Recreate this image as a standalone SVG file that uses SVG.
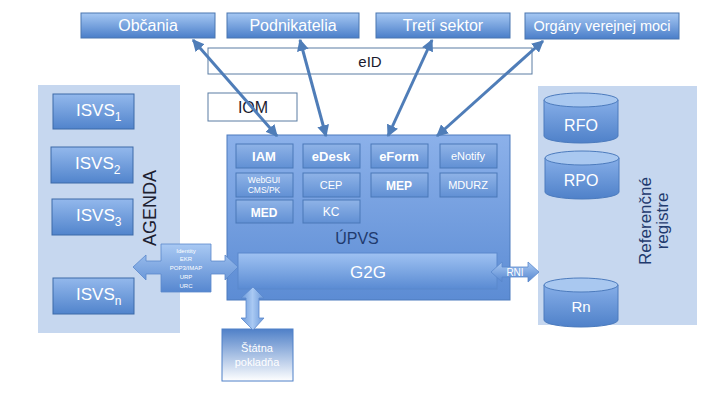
<svg xmlns="http://www.w3.org/2000/svg" width="720" height="405" viewBox="0 0 720 405">
<defs>
<linearGradient id="gTop" x1="0" y1="0" x2="0" y2="1"><stop offset="0" stop-color="#a6c8f3"/><stop offset="1" stop-color="#4a7ec9"/></linearGradient>
<linearGradient id="gBox" x1="0" y1="0" x2="0" y2="1"><stop offset="0" stop-color="#93b8ec"/><stop offset="1" stop-color="#5184cc"/></linearGradient>
<linearGradient id="gIn" x1="0" y1="0" x2="0" y2="1"><stop offset="0" stop-color="#8fb3e7"/><stop offset="1" stop-color="#6190d4"/></linearGradient>
<linearGradient id="gUp" x1="0" y1="0" x2="0" y2="1"><stop offset="0" stop-color="#8cb1ea"/><stop offset="1" stop-color="#5c8cd4"/></linearGradient>
<linearGradient id="gG2G" x1="0" y1="0" x2="0" y2="1"><stop offset="0" stop-color="#9fc2f2"/><stop offset="1" stop-color="#5a8bd3"/></linearGradient>
<linearGradient id="gArr" x1="0" y1="0" x2="0" y2="1"><stop offset="0" stop-color="#a9c9f3"/><stop offset="1" stop-color="#5687d0"/></linearGradient>
<linearGradient id="gArrV" x1="0" y1="0" x2="1" y2="0"><stop offset="0" stop-color="#6a98da"/><stop offset="0.5" stop-color="#a9c9f3"/><stop offset="1" stop-color="#6a98da"/></linearGradient>
<linearGradient id="gSP" x1="0" y1="0" x2="0" y2="1"><stop offset="0" stop-color="#4f80c8"/><stop offset="1" stop-color="#ffffff"/></linearGradient>
<linearGradient id="gCyl" x1="0" y1="0" x2="0" y2="1"><stop offset="0" stop-color="#86aee8"/><stop offset="1" stop-color="#4f81c9"/></linearGradient>
<marker id="ah" viewBox="0 0 10 10" refX="9" refY="5" markerWidth="4" markerHeight="4" orient="auto-start-reverse" markerUnits="strokeWidth"><path d="M0,0 L10,5 L0,10 Z" fill="#4f7db8"/></marker>
</defs>
<style>
text{font-family:"Liberation Sans",Arial,sans-serif}
.top{fill:url(#gTop);stroke:#4a76b0;stroke-width:1}
.tt{fill:#fff;font-size:16px;text-anchor:middle}
.isvs{fill:url(#gBox);stroke:#3d6aa8;stroke-width:1}
.it{fill:#fff;font-size:17px}
.in{fill:url(#gIn);stroke:#4a78b8;stroke-width:1}
.bt{fill:#fff;font-size:13px;font-weight:bold;text-anchor:middle}
.nt{fill:#fff;font-size:11px;text-anchor:middle}
.panel{fill:#c6d7ef}
.wbox{fill:#fff;stroke:#5a7ca3;stroke-width:1}
.dk{fill:#1a1a2e;text-anchor:middle}
.conn{stroke:#4f7db8;stroke-width:3;fill:none;marker-start:url(#ah);marker-end:url(#ah)}
.cylb{fill:url(#gCyl);stroke:#4c7bbd;stroke-width:1}
.cylt{fill:#a9c8f0;stroke:#4c7bbd;stroke-width:1}
.tiny{fill:#fff;font-size:6px;text-anchor:middle}
</style>

<rect class="panel" x="38" y="85" width="142" height="248"/>
<rect class="panel" x="538" y="86" width="159" height="239"/>

<g id="obcania"><rect class="top" x="81" y="13" width="134" height="25"/><text class="tt" x="148" y="31">Občania</text></g>
<g id="podnikatelia"><rect class="top" x="227" y="13" width="132" height="25"/><text class="tt" x="293" y="31">Podnikatelia</text></g>
<g id="treti"><rect class="top" x="376" y="13" width="134" height="25"/><text class="tt" x="443" y="31">Tretí sektor</text></g>
<g id="organy"><rect class="top" x="525" y="13" width="154" height="26"/><text class="tt" x="602" y="31" style="font-size:14.5px">Orgány verejnej moci</text></g>

<g id="eid"><rect class="wbox" x="208" y="48" width="324" height="26"/><text class="dk" x="370" y="67" style="font-size:15px">eID</text></g>
<g id="iom"><rect class="wbox" x="208" y="93" width="89" height="28"/><text class="dk" x="253" y="113" style="font-size:16px">IOM</text></g>

<g id="isvs1"><rect class="isvs" x="53" y="94" width="81" height="35"/><text class="it" x="76" y="116">ISVS<tspan font-size="12" dy="5">1</tspan></text></g>
<g id="isvs2"><rect class="isvs" x="51" y="147" width="82" height="36"/><text class="it" x="75" y="169">ISVS<tspan font-size="12" dy="5">2</tspan></text></g>
<g id="isvs3"><rect class="isvs" x="52" y="199" width="81" height="36"/><text class="it" x="76" y="221">ISVS<tspan font-size="12" dy="5">3</tspan></text></g>
<g id="isvsn"><rect class="isvs" x="53" y="278" width="81" height="36"/><text class="it" x="76" y="300">ISVS<tspan font-size="12" dy="5">n</tspan></text></g>
<g id="agenda"><text class="dk" transform="translate(156,208) rotate(-90)" style="font-size:18px;fill:#1c2030">AGENDA</text></g>

<g id="upvs">
<rect x="227" y="135" width="283" height="165" fill="url(#gUp)" stroke="#4c7bbd" stroke-width="1"/>
<text x="357" y="244" style="font-size:16px;fill:#1f3a6e;text-anchor:middle">ÚPVS</text>
</g>
<g id="iam"><rect class="in" x="236" y="144" width="57" height="24"/><text class="bt" x="264" y="161">IAM</text></g>
<g id="edesk"><rect class="in" x="303" y="144" width="57" height="24"/><text class="bt" x="331" y="161">eDesk</text></g>
<g id="eform"><rect class="in" x="371" y="144" width="57" height="24"/><text class="bt" x="399" y="161">eForm</text></g>
<g id="enotify"><rect class="in" x="440" y="144" width="57" height="24"/><text class="nt" x="468" y="160">eNotify</text></g>
<g id="webgui"><rect class="in" x="236" y="173" width="57" height="24"/><text class="nt" x="264" y="183" style="font-size:8.5px">WebGUI</text><text class="nt" x="264" y="193" style="font-size:8.5px">CMS/PK</text></g>
<g id="cep"><rect class="in" x="303" y="173" width="57" height="24"/><text class="nt" x="331" y="189">CEP</text></g>
<g id="mep"><rect class="in" x="371" y="173" width="57" height="24"/><text class="bt" x="399" y="190" style="font-size:12px">MEP</text></g>
<g id="mdurz"><rect class="in" x="440" y="173" width="57" height="24"/><text class="nt" x="468" y="189">MDURZ</text></g>
<g id="med"><rect class="in" x="236" y="200" width="57" height="23"/><text class="bt" x="264" y="217" style="font-size:12px">MED</text></g>
<g id="kc"><rect class="in" x="303" y="200" width="57" height="23"/><text class="nt" x="331" y="216" style="font-size:12px">KC</text></g>
<g id="g2g"><rect x="238" y="253" width="259" height="36" fill="url(#gG2G)" stroke="#5a88cc" stroke-width="1"/><text x="368" y="278" style="font-size:17px;fill:#fff;text-anchor:middle">G2G</text></g>

<g id="sp"><rect x="222" y="329" width="71" height="52" fill="url(#gSP)" stroke="#4f80c8" stroke-width="1"/><text x="257" y="352" style="font-size:11px;fill:#fff;text-anchor:middle">Štátna</text><text x="257" y="366" style="font-size:11px;fill:#fff;text-anchor:middle">pokladňa</text></g>

<g id="rfo"><path class="cylb" d="M544,100 L544,136 A37,7 0 0 0 618,136 L618,100 Z"/><ellipse class="cylt" cx="581" cy="100" rx="37" ry="7"/><text x="581" y="131" style="font-size:16px;fill:#fff;text-anchor:middle">RFO</text></g>
<g id="rpo"><path class="cylb" d="M545,158 L545,192 A37,7 0 0 0 619,192 L619,158 Z"/><ellipse class="cylt" cx="582" cy="158" rx="37" ry="7"/><text x="581" y="186" style="font-size:16px;fill:#fff;text-anchor:middle">RPO</text></g>
<g id="rn"><path class="cylb" d="M544,285 L544,320 A37,7 0 0 0 618,320 L618,285 Z"/><ellipse class="cylt" cx="581" cy="285" rx="37" ry="7"/><text x="581" y="312" style="font-size:15px;fill:#fff;text-anchor:middle">Rn</text></g>
<g id="refreg"><text transform="translate(651,221) rotate(-90)" style="font-size:17px;fill:#1f3a6e;text-anchor:middle">Referenčné</text><text transform="translate(668,221) rotate(-90)" style="font-size:17px;fill:#1f3a6e;text-anchor:middle">registre</text></g>

<g id="connectors">
<line class="conn" x1="193" y1="40" x2="277" y2="136"/>
<line class="conn" x1="300" y1="40" x2="326" y2="136"/>
<line class="conn" x1="432" y1="40" x2="388" y2="136"/>
<line class="conn" x1="543" y1="41" x2="437" y2="136"/>
<g id="agenda-arrow">
<path d="M133,267 L146,255 L146,261 L161,261 L161,244 L211,244 L211,261 L225,261 L225,255 L238,267 L225,280 L225,274 L211,274 L211,292 L161,292 L161,274 L146,274 L146,280 Z" fill="url(#gArr)" stroke="#5a88cc" stroke-width="0.8"/>
<text class="tiny" x="186" y="253">Identity</text>
<text class="tiny" x="186" y="261">EKR</text>
<text class="tiny" x="186" y="270">POP3/IMAP</text>
<text class="tiny" x="186" y="279">URP</text>
<text class="tiny" x="186" y="288">URC</text>
</g>
<path d="M253,287 L264,298 L259,298 L259,318 L264,318 L253,330 L241,318 L246,318 L246,298 L241,298 Z" fill="url(#gArrV)" stroke="#5a88cc" stroke-width="0.8"/>
<g id="rni-arrow">
<path d="M491,272 L502,262 L502,267 L528,267 L528,262 L539,272 L528,282 L528,277 L502,277 L502,282 Z" fill="url(#gArr)" stroke="#5a88cc" stroke-width="0.8"/>
<text x="515" y="276" style="font-size:10px;fill:#fff;text-anchor:middle">RNI</text>
</g>
</g>
</svg>
